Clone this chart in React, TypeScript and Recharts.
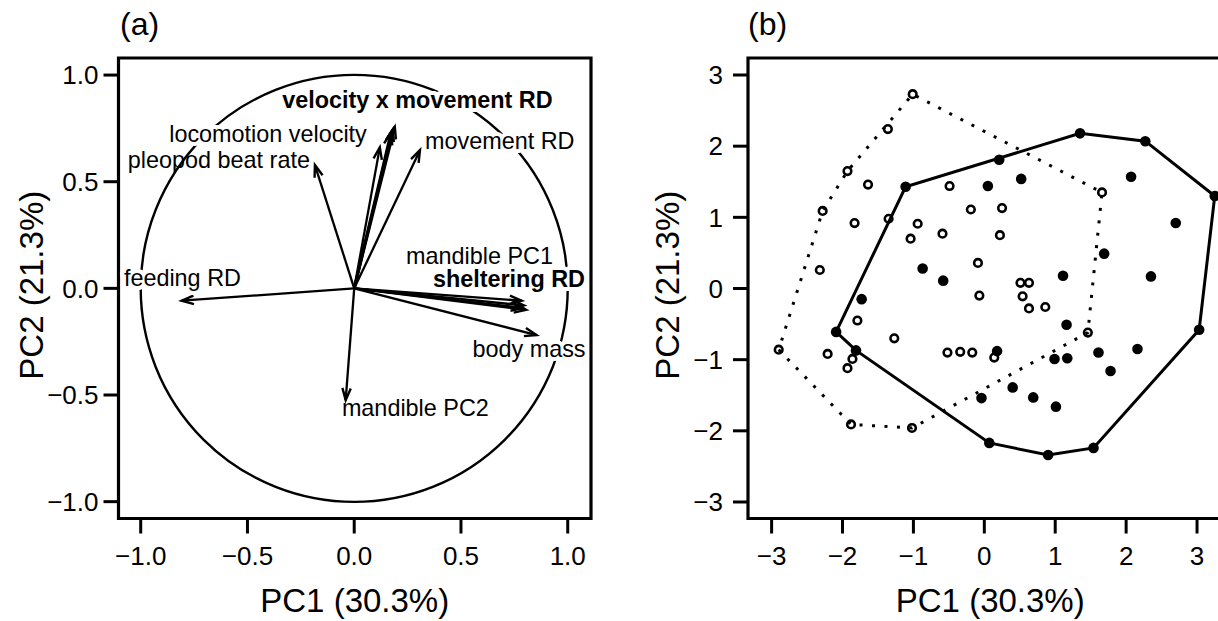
import React from 'react';
import { ScatterChart, Scatter, XAxis, YAxis, ReferenceLine, ReferenceArea } from 'recharts';

const FONT = '"Liberation Sans", Arial, Helvetica, sans-serif';
const MINUS = '\u2212';

// ---------- Panel (a): variable loadings (PC1, PC2) ----------
const loadingNames = [
  'feeding RD', 'pleopod beat rate', 'locomotion velocity',
  'velocity x movement RD', 'velocity x movement RD', 'velocity x movement RD',
  'movement RD', 'mandible PC1', 'sheltering RD', 'sheltering RD', 'sheltering RD',
  'body mass', 'mandible PC2',
];
const loadingPC1 = [-0.808, -0.184, 0.12, 0.19, 0.18, 0.172, 0.308, 0.784, 0.795, 0.805, 0.79, 0.854, -0.04];
const loadingPC2 = [-0.058, 0.578, 0.661, 0.758, 0.745, 0.73, 0.648, -0.058, -0.08, -0.101, -0.092, -0.219, -0.524];

// labels: text and which loading they belong to
const labelTexts = [
  'velocity x movement RD', 'locomotion velocity', 'pleopod beat rate', 'movement RD',
  'mandible PC1', 'sheltering RD', 'feeding RD', 'body mass', 'mandible PC2',
];
const labelLoading = [3, 2, 1, 6, 8, 8, 0, 11, 12];
// label placement (pixels relative to the arrow tip) and style
const labelAnchor = ['middle', 'end', 'end', 'start', 'end', 'end', 'start', 'end', 'start'];
const labelDx = [22.6, -13, -5, 5, 29, 61, -57.8, 49, -3.8];
const labelDy = [-18.6, -5, 3, -1, -41.4, -18.4, -14.7, 22, 16];
const labelBold = [true, false, false, false, false, true, false, false, false];
const labelHalo = [true, true, false, true, true, true, true, true, false];

const ticksA = [-1, -0.5, 0, 0.5, 1];

// ---------- Panel (b): individual scores ----------
const openPC1 = [
  -1.01, -1.36, -1.93, -1.64, -2.28, -1.83, -0.49, -0.19, -0.94, -1.04, -0.59, -2.32,
  -0.09, -1.35, -1.79, -1.27, -2.9, -2.21, -1.86, -1.93, -0.52, -0.34, -0.17, -1.88,
  -1.02, 1.66, 0.25, 0.22, 0.51, 0.63, -0.07, 0.54, 0.63, 0.86, 1.46, 0.14,
];
const openPC2 = [
  2.73, 2.24, 1.65, 1.46, 1.09, 0.92, 1.44, 1.11, 0.91, 0.7, 0.77, 0.26,
  0.36, 0.98, -0.45, -0.7, -0.86, -0.92, -0.99, -1.12, -0.9, -0.89, -0.9, -1.91,
  -1.96, 1.35, 1.13, 0.75, 0.08, 0.08, -0.1, -0.11, -0.28, -0.26, -0.62, -0.97,
];
const filledPC1 = [
  -1.11, -0.87, -0.58, -1.73, -2.09, -1.81, 1.35, 2.27, 3.25, 0.21, 0.05, 0.52,
  2.07, 2.7, 1.69, 1.11, 2.35, 1.16, 3.03, 0.18, 0.99, 1.17, 1.61, 2.16,
  1.78, 0.4, -0.04, 0.69, 1.01, 0.07, 0.9, 1.54,
];
const filledPC2 = [
  1.43, 0.28, 0.11, -0.15, -0.61, -0.87, 2.18, 2.07, 1.3, 1.81, 1.44, 1.54,
  1.57, 0.92, 0.49, 0.18, 0.17, -0.51, -0.58, -0.88, -0.99, -0.98, -0.9, -0.85,
  -1.16, -1.39, -1.54, -1.53, -1.66, -2.17, -2.34, -2.24,
];
const ticksB = [-3, -2, -1, 0, 1, 2, 3];

type Pt = { x: number; y: number };

const openPts: Pt[] = openPC1.map((x, i) => ({ x, y: openPC2[i] }));
const filledPts: Pt[] = filledPC1.map((x, i) => ({ x, y: filledPC2[i] }));

function convexHull(pts: Pt[]): Pt[] {
  const p = [...pts].sort((a, b) => a.x - b.x || a.y - b.y);
  const cross = (o: Pt, a: Pt, b: Pt) => (a.x - o.x) * (b.y - o.y) - (a.y - o.y) * (b.x - o.x);
  const lower: Pt[] = [];
  for (const q of p) {
    while (lower.length >= 2 && cross(lower[lower.length - 2], lower[lower.length - 1], q) <= 0) lower.pop();
    lower.push(q);
  }
  const upper: Pt[] = [];
  for (let i = p.length - 1; i >= 0; i--) {
    const q = p[i];
    while (upper.length >= 2 && cross(upper[upper.length - 2], upper[upper.length - 1], q) <= 0) upper.pop();
    upper.push(q);
  }
  upper.pop();
  lower.pop();
  const h = lower.concat(upper);
  return [...h, h[0]];
}

const openHull = convexHull(openPts);
const filledHull = convexHull(filledPts);

const fmt1 = (v: number) => (v < 0 ? MINUS : '') + Math.abs(v).toFixed(1);
const fmt0 = (v: number) => (v < 0 ? MINUS : '') + Math.abs(v).toFixed(0);

const tickStyle = { fill: '#000', fontSize: 26, fontFamily: FONT };
const tickLineStyle = { stroke: '#000', strokeWidth: 3 };

const loadings = loadingNames.map((name, i) => ({ name, x: loadingPC1[i], y: loadingPC2[i] }));
const labelData = labelTexts.map((text, i) => ({
  text,
  x: loadingPC1[labelLoading[i]],
  y: loadingPC2[labelLoading[i]],
  anchor: labelAnchor[i],
  dx: labelDx[i],
  dy: labelDy[i],
  bold: labelBold[i],
  halo: labelHalo[i],
}));

const arrowShape = (w: number) => (props: any) => {
  const { x1, y1, x2, y2 } = props;
  const dx = x2 - x1;
  const dy = y2 - y1;
  const len = Math.hypot(dx, dy) || 1;
  const ux = dx / len;
  const uy = dy / len;
  const hl = 12;
  const hw = 4.2;
  const bx = x2 - ux * hl;
  const by = y2 - uy * hl;
  const p1 = `${bx - uy * hw},${by + ux * hw}`;
  const p2 = `${bx + uy * hw},${by - ux * hw}`;
  return (
    <g>
      <line x1={x1} y1={y1} x2={x2} y2={y2} stroke="#000" strokeWidth={w} />
      <polyline points={`${p1} ${x2},${y2} ${p2}`} fill="none" stroke="#000" strokeWidth={2.4} strokeLinejoin="miter" />
    </g>
  );
};

const circleShape = (props: any) => {
  const { x1, y1, x2 } = props;
  return <circle cx={x1} cy={y1} r={Math.abs(x2 - x1)} fill="none" stroke="#000" strokeWidth={2.4} />;
};

const LabelShape = (props: any) => {
  const { cx, cy, payload } = props;
  if (cx == null || cy == null) return <g />;
  return (
    <text
      x={cx + payload.dx}
      y={cy + payload.dy}
      textAnchor={payload.anchor}
      fontSize={23.4}
      fontFamily={FONT}
      fontWeight={payload.bold ? 'bold' : 'normal'}
      fill="#000"
      stroke={payload.halo ? '#fff' : 'none'}
      strokeWidth={payload.halo ? 8 : 0}
      strokeLinejoin="round"
      paintOrder="stroke"
    >
      {payload.text}
    </text>
  );
};

const OpenDot = (props: any) => {
  const { cx, cy } = props;
  if (cx == null) return <g />;
  return <circle cx={cx} cy={cy} r={3.8} fill="none" stroke="#000" strokeWidth={2.6} />;
};
const FilledDot = (props: any) => {
  const { cx, cy } = props;
  if (cx == null) return <g />;
  return <circle cx={cx} cy={cy} r={5.3} fill="#000" stroke="none" />;
};
const NoDot = () => <g />;

const xTitle = (cxOffset: number) => (props: any) => {
  const vb = props.viewBox || {};
  return (
    <text x={vb.x + vb.width / 2 + cxOffset} y={vb.y + 93.5} textAnchor="middle" fontSize={33} fontFamily={FONT} fill="#000">
      PC1 (30.3%)
    </text>
  );
};
const yTitle = (baseX: number) => (props: any) => {
  const vb = props.viewBox || {};
  const cy = vb.y + vb.height / 2 - 3;
  return (
    <text x={baseX} y={cy} transform={`rotate(-90 ${baseX} ${cy})`} textAnchor="middle" fontSize={33} fontFamily={FONT} fill="#000">
      PC2 (21.3%)
    </text>
  );
};

const XA: [number, number] = [-1.104, 1.109];
const YA: [number, number] = [-1.079, 1.08];
const XB: [number, number] = [-3.333, 3.331];
const YB: [number, number] = [-3.232, 3.239];

function PanelA() {
  return (
    <div style={{ position: 'absolute', left: 0, top: 0 }}>
      <ScatterChart width={610} height={621} margin={{ top: 58, right: 19, bottom: 0, left: 0 }}>
        <XAxis
          type="number"
          dataKey="x"
          domain={XA}
          ticks={ticksA}
          interval={0}
          allowDataOverflow
          tickFormatter={fmt1}
          axisLine={false}
          tickLine={tickLineStyle}
          tickSize={15}
          tickMargin={13}
          height={102.5}
          tick={tickStyle}
          label={xTitle(0)}
        />
        <YAxis
          type="number"
          dataKey="y"
          domain={YA}
          ticks={ticksA}
          interval={0}
          allowDataOverflow
          tickFormatter={fmt1}
          axisLine={false}
          tickLine={tickLineStyle}
          tickSize={15}
          tickMargin={5}
          width={118.5}
          tick={tickStyle}
          label={yTitle(43)}
        />
        <ReferenceLine segment={[{ x: 0, y: 0 }, { x: 1, y: 0 }]} shape={circleShape} ifOverflow="visible" />
        <Scatter data={labelData} shape={LabelShape} isAnimationActive={false} />
        {loadings.map((l, i) => (
          <ReferenceLine
            key={i}
            segment={[{ x: 0, y: 0 }, { x: l.x, y: l.y }]}
            shape={arrowShape(l.name === 'velocity x movement RD' ? 2.8 : 2.3)}
            ifOverflow="visible"
          />
        ))}
        <ReferenceArea x1={XA[0]} x2={XA[1]} y1={YA[0]} y2={YA[1]} fill="none" fillOpacity={0} stroke="#000" strokeWidth={3.2} ifOverflow="visible" />
      </ScatterChart>
    </div>
  );
}

function PanelB() {
  return (
    <div style={{ position: 'absolute', left: 620, top: 0 }}>
      <ScatterChart width={620} height={621} margin={{ top: 58, right: 19.5, bottom: 0, left: 0 }}>
        <XAxis
          type="number"
          dataKey="x"
          domain={XB}
          ticks={ticksB}
          interval={0}
          allowDataOverflow
          tickFormatter={fmt0}
          axisLine={false}
          tickLine={tickLineStyle}
          tickSize={15}
          tickMargin={13}
          height={102.5}
          tick={tickStyle}
          label={xTitle(6)}
        />
        <YAxis
          type="number"
          dataKey="y"
          domain={YB}
          ticks={ticksB}
          interval={0}
          allowDataOverflow
          tickFormatter={fmt0}
          axisLine={false}
          tickLine={tickLineStyle}
          tickSize={15}
          tickMargin={10}
          width={128}
          tick={tickStyle}
          label={yTitle(59)}
        />
        <Scatter
          data={openHull}
          line={{ stroke: '#000', strokeWidth: 3, strokeDasharray: '3 9.5' }}
          shape={NoDot}
          isAnimationActive={false}
        />
        <Scatter data={filledHull} line={{ stroke: '#000', strokeWidth: 3 }} shape={NoDot} isAnimationActive={false} />
        <Scatter data={openPts} shape={OpenDot} isAnimationActive={false} />
        <Scatter data={filledPts} shape={FilledDot} isAnimationActive={false} />
        <ReferenceArea x1={XB[0]} x2={XB[1]} y1={YB[0]} y2={YB[1]} fill="none" fillOpacity={0} stroke="#000" strokeWidth={3.2} ifOverflow="visible" />
      </ScatterChart>
    </div>
  );
}

export default function App() {
  return (
    <div
      style={{
        position: 'fixed',
        left: 0,
        top: 0,
        width: 1218,
        height: 621,
        overflow: 'hidden',
        background: '#fff',
        fontFamily: FONT,
      }}
    >
      <PanelA />
      <PanelB />
      <svg width={1218} height={50} style={{ position: 'absolute', left: 0, top: 0, pointerEvents: 'none' }}>
        <text x={120} y={35} fontSize={32} fontFamily={FONT} fill="#000">(a)</text>
        <text x={748} y={35} fontSize={32} fontFamily={FONT} fill="#000">(b)</text>
      </svg>
    </div>
  );
}
